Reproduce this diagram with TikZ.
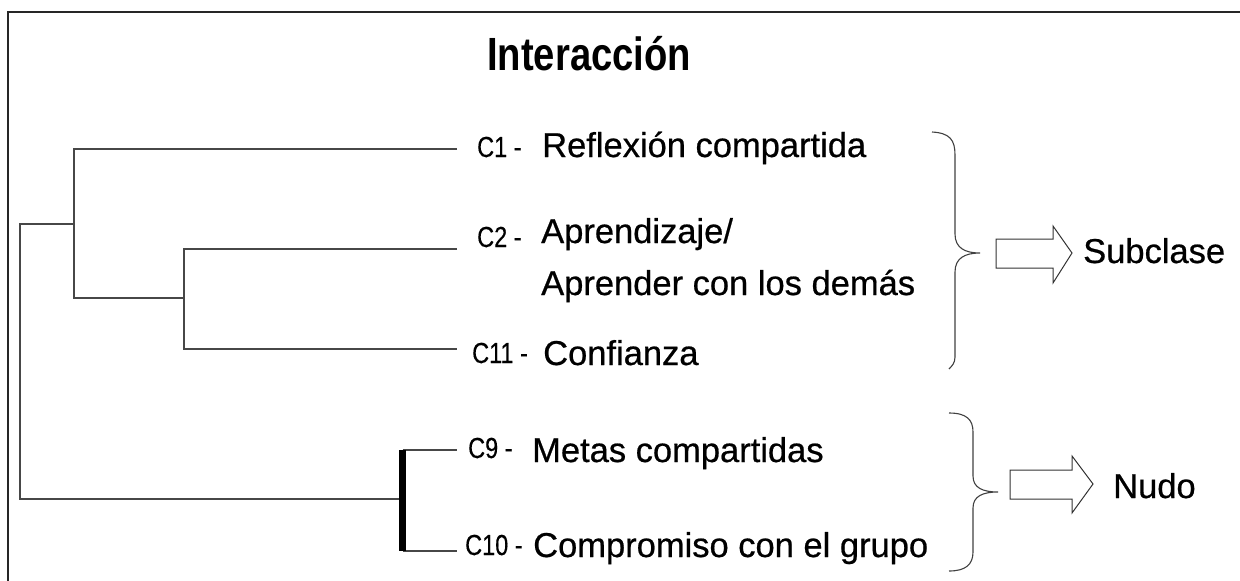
\documentclass[tikz,border=0pt]{standalone}
\usepackage{fontspec}
\setmainfont[FakeBold=0.6]{Liberation Sans}
\newfontfamily\titlefont[FakeStretch=0.82]{Liberation Sans Bold}
\newfontfamily\codefont[FakeStretch=0.81,FakeBold=0.4]{Liberation Sans}
\begin{document}
\begin{tikzpicture}[x=1pt,y=-1pt,
  lab/.style={inner sep=0pt, anchor=base west, font=\fontsize{34.5}{40}\selectfont},
  code/.style={inner sep=0pt, anchor=base west, font=\codefont\fontsize{29}{34}\selectfont},
  ttl/.style={inner sep=0pt, anchor=base west, font=\titlefont\fontsize{46.6}{52}\selectfont},
  dendro/.style={draw=black!72, line width=2pt},
  brace/.style={draw=black!75, line width=1.1pt},
  blockarrow/.style={draw=black!80, line width=1pt, fill=white, line join=miter}]
\useasboundingbox (0,0) rectangle (1240,581);
% frame
\draw[black!85, line width=1.6pt] (8,581) -- (8,12) -- (1240,12);
% title
\node[ttl] (title) at (487,70) {Interacción};
% leaf coordinates
\coordinate (l1) at (457,149);
\coordinate (l2) at (457,249);
\coordinate (l11) at (457,349);
\coordinate (l9) at (457,450);
\coordinate (l10) at (457,551);
% internal coordinates
\coordinate (n211a) at (184,249);
\coordinate (n211b) at (184,349);
\coordinate (n211) at (184,298);
\coordinate (nAa) at (74,149);
\coordinate (nAb) at (74,298);
\coordinate (nA) at (74,224);
\coordinate (rootA) at (20,224);
\coordinate (rootB) at (20,499);
\coordinate (n910) at (399,499);
\coordinate (b9) at (402.5,450);
\coordinate (b10) at (402.5,551);
% dendrogram
\draw[dendro] (l2) -- (n211a) -- (n211b) -- (l11);
\draw[dendro] (l1) -- (nAa) -- (nAb) -- (n211);
\draw[dendro] (nA) -- (rootA) -- (rootB) -- (n910);
\draw[dendro] (b9) -- (l9);
\draw[dendro] (b10) -- (l10);
\draw[black, line width=7pt] (b9) -- (b10);
% codes
\node[code] (c1) at (477,157) {C1 -};
\node[code] (c2) at (477,247) {C2 -};
\node[code] (c11) at (472,363) {C11 -};
\node[code] (c9) at (468,458) {C9 -};
\node[code] (c10) at (465,555) {C10 -};
% labels
\node[lab] (t1) at (542,157) {Reflexión compartida};
\node[lab] (t2a) at (541,243) {Aprendizaje/};
\node[lab] (t2b) at (541,295) {Aprender con los demás};
\node[lab] (t11) at (543,365) {Confianza};
\node[lab] (t9) at (532,462) {Metas compartidas};
\node[lab] (t10) at (533,557) {Compromiso con el grupo};
% braces
\draw[brace] (932,132) .. controls (950,133) and (955,140) .. (955,155) -- (955,234)
  .. controls (955,248) and (965,253) .. (980,253)
  .. controls (965,253) and (955,258) .. (955,272) -- (955,357)
  .. controls (955,363) and (952,366) .. (949,369);
\draw[brace] (949,413) .. controls (967,413) and (973,420) .. (973,432) -- (973,476)
  .. controls (973,488) and (983,492) .. (998,492)
  .. controls (983,492) and (973,496) .. (973,508) -- (973,552)
  .. controls (973,565) and (965,571) .. (949,571);
% block arrows
\draw[blockarrow] (996,239) -- (1053,239) -- (1053,226) -- (1072,253) -- (1053,283) -- (1053,268) -- (996,268) -- cycle;
\draw[blockarrow] (1010,470) -- (1072,470) -- (1072,456) -- (1093,484) -- (1072,513) -- (1072,499) -- (1010,499) -- cycle;
% results
\node[lab] (sub) at (1083,263) {Subclase};
\node[lab] (nudo) at (1113,498) {Nudo};
\end{tikzpicture}
\end{document}
